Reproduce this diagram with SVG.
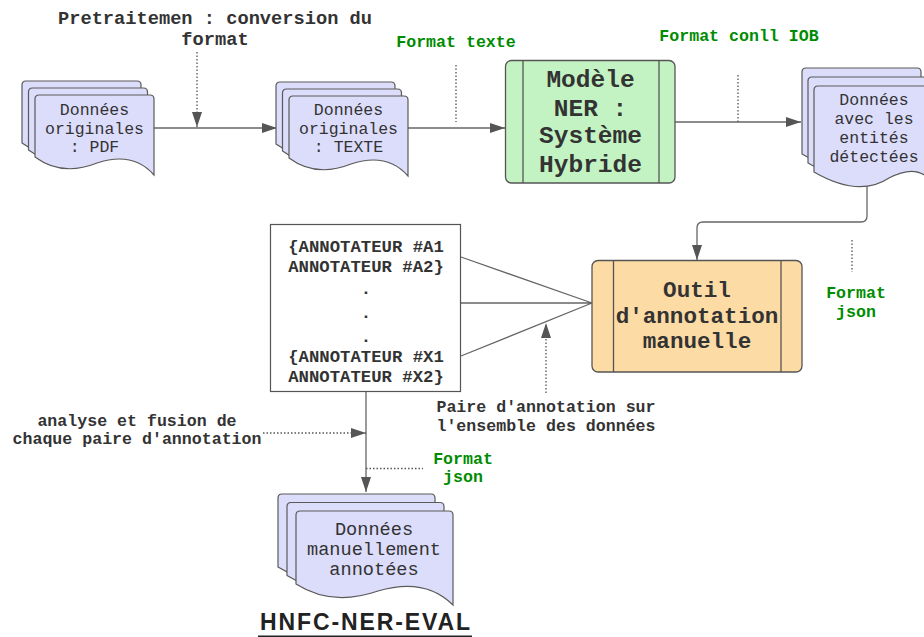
<svg xmlns="http://www.w3.org/2000/svg" width="924" height="637" viewBox="0 0 924 637">
<style>
.sheet{fill:#dcdcfb;stroke:#5a5a5a;stroke-width:1.2}
.box{stroke:#555;stroke-width:1.3}
.edge{fill:none;stroke:#666;stroke-width:1.3}
.dot{fill:none;stroke:#555;stroke-width:1.3;stroke-dasharray:1.5 2}
.doc{font-family:"Liberation Mono",monospace;font-size:16.5px;fill:#333;text-anchor:middle}
.docL{font-family:"Liberation Mono",monospace;font-size:18.6px;fill:#333;text-anchor:middle}
.lbl{font-family:"Liberation Mono",monospace;font-weight:bold;fill:#333;text-anchor:middle}
.grn{font-family:"Liberation Mono",monospace;font-weight:bold;font-size:16.6px;fill:#008c00;text-anchor:middle}
</style>
<defs>
<marker id="arr" markerUnits="userSpaceOnUse" markerWidth="15" markerHeight="10" refX="15" refY="5" orient="auto">
<path d="M0,0 L15,5 L0,10 Z" fill="#555"/>
</marker>
<path id="docA" d="M0,4 Q0,0 4,0 H115 Q119,0 119,4 V80 Q98,56 62,68 Q27,82 0,62 Z"/>
<path id="docC" d="M0,4 Q0,0 4,0 H115 Q119,0 119,4 V98 Q105,76 75,92 Q45,112 0,86 Z"/>
<path id="docD" d="M0,4 Q0,0 4,0 H153 Q157,0 157,4 V94 Q129,66 82,80 Q36,96 0,73 Z"/>
</defs>

<g id="title">
<text class="lbl" font-size="18.7" x="215" y="24">Pretraitemen : conversion du</text>
<text class="lbl" font-size="18.7" x="215" y="45">format</text>
</g>

<g id="connectors">
<path class="edge" d="M154,128 H277" marker-end="url(#arr)"/>
<path class="dot" d="M197,52 V127" marker-end="url(#arr)"/>
<path class="edge" d="M408,128 H505" marker-end="url(#arr)"/>
<path class="dot" d="M456,65 V122"/>
<path class="edge" d="M675,122 H801" marker-end="url(#arr)"/>
<path class="dot" d="M738,75 V122"/>
<path class="edge" d="M867,186 V216 Q867,222 861,222 H703 Q697,222 697,228 V260" marker-end="url(#arr)"/>
<path class="edge" d="M461,257 L592,303 M461,303 H592 M461,356 L592,303"/>
<path class="dot" d="M546,393 V323" marker-end="url(#arr)"/>
<path class="edge" d="M366,392 V492" marker-end="url(#arr)"/>
<path class="dot" d="M263,433 H366" marker-end="url(#arr)"/>
<path class="dot" d="M366,468.5 H423"/>
<path class="dot" d="M852,240 V272"/>
</g>

<g id="doc-pdf">
<use href="#docA" class="sheet" x="22" y="81"/>
<use href="#docA" class="sheet" x="28.5" y="88"/>
<use href="#docA" class="sheet" x="35" y="95"/>
<text class="doc" x="94.5" y="115">Données</text>
<text class="doc" x="94.5" y="133.5">originales</text>
<text class="doc" x="94.5" y="152">: PDF</text>
</g>

<g id="doc-texte">
<use href="#docA" class="sheet" x="276" y="82"/>
<use href="#docA" class="sheet" x="282.5" y="89"/>
<use href="#docA" class="sheet" x="289" y="96"/>
<text class="doc" x="348.5" y="115">Données</text>
<text class="doc" x="348.5" y="133.5">originales</text>
<text class="doc" x="348.5" y="152">: TEXTE</text>
</g>

<g id="label-format-texte">
<text class="grn" x="456" y="47">Format texte</text>
</g>

<g id="modele-ner">
<rect class="box" x="505.5" y="60.5" width="169.5" height="122.5" rx="6" fill="#c3f3c3"/>
<line class="box" x1="523" y1="60.5" x2="523" y2="183"/>
<line class="box" x1="659" y1="60.5" x2="659" y2="183"/>
<text class="lbl" font-size="24.5" x="590.5" y="87">Modèle</text>
<text class="lbl" font-size="24.5" x="590.5" y="115.5">NER :</text>
<text class="lbl" font-size="24.5" x="590.5" y="143">Système</text>
<text class="lbl" font-size="24.5" x="590.5" y="171.5">Hybride</text>
</g>

<g id="label-conll">
<text class="grn" x="739" y="41">Format conll IOB</text>
</g>

<g id="doc-entites">
<use href="#docC" class="sheet" x="802" y="68"/>
<use href="#docC" class="sheet" x="808" y="77"/>
<use href="#docC" class="sheet" x="814" y="86"/>
<text class="doc" x="874" y="105">Données</text>
<text class="doc" x="874" y="124">avec les</text>
<text class="doc" x="874" y="143">entités</text>
<text class="doc" x="874" y="161.5">détectées</text>
</g>

<g id="label-json-right">
<text class="grn" x="856" y="298">Format</text>
<text class="grn" x="856" y="317">json</text>
</g>

<g id="annotateurs">
<rect x="270.5" y="224.5" width="190" height="167" fill="#fff" stroke="#555" stroke-width="1.2"/>
<text class="lbl" font-size="17.3" x="366" y="252">{ANNOTATEUR #A1</text>
<text class="lbl" font-size="17.3" x="366" y="272">ANNOTATEUR #A2}</text>
<text class="lbl" font-size="17.3" x="366" y="294">.</text>
<text class="lbl" font-size="17.3" x="366" y="318">.</text>
<text class="lbl" font-size="17.3" x="366" y="342">.</text>
<text class="lbl" font-size="17.3" x="366" y="362">{ANNOTATEUR #X1</text>
<text class="lbl" font-size="17.3" x="366" y="382">ANNOTATEUR #X2}</text>
</g>

<g id="outil">
<rect class="box" x="592" y="260.5" width="210" height="111.5" rx="6" fill="#fddba5"/>
<line class="box" x1="613.5" y1="260.5" x2="613.5" y2="372"/>
<line class="box" x1="781" y1="260.5" x2="781" y2="372"/>
<text class="lbl" font-size="22.6" x="697" y="297">Outil</text>
<text class="lbl" font-size="22.6" x="697" y="322.5">d'annotation</text>
<text class="lbl" font-size="22.6" x="697" y="348">manuelle</text>
</g>

<g id="label-paire">
<text class="lbl" font-size="16.6" x="546" y="412">Paire d'annotation sur</text>
<text class="lbl" font-size="16.6" x="546" y="431">l'ensemble des données</text>
</g>

<g id="label-analyse">
<text class="lbl" font-size="16.6" x="137" y="426">analyse et fusion de</text>
<text class="lbl" font-size="16.6" x="137" y="444">chaque paire d'annotation</text>
</g>

<g id="label-json-bottom">
<text class="grn" x="463" y="463.5">Format</text>
<text class="grn" x="463" y="482">json</text>
</g>

<g id="doc-manuelles">
<use href="#docD" class="sheet" x="278" y="494"/>
<use href="#docD" class="sheet" x="287" y="502.5"/>
<use href="#docD" class="sheet" x="296" y="511"/>
<text class="docL" x="374" y="535">Données</text>
<text class="docL" x="374" y="555">manuellement</text>
<text class="docL" x="374" y="575">annotées</text>
</g>

<g id="dataset-title">
<text x="365" y="630" font-family="Liberation Sans, Arial, sans-serif" font-weight="bold" font-size="23" fill="#222" text-anchor="middle" textLength="210" lengthAdjust="spacing">HNFC-NER-EVAL</text>
<line x1="258" y1="636.5" x2="472" y2="636.5" stroke="#222" stroke-width="2"/>
</g>
</svg>
